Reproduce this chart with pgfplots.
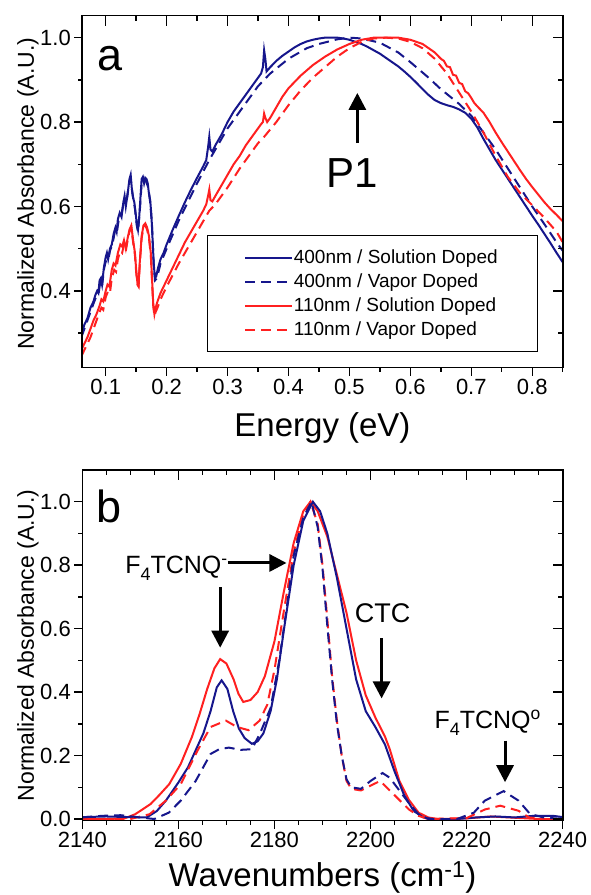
\documentclass[border=0pt]{standalone}
\usepackage{pgfplots}
\pgfplotsset{compat=1.18}
\usepackage{fontspec}
\setmainfont{Liberation Sans}
\usetikzlibrary{arrows.meta}
\definecolor{navy}{RGB}{22,22,140}
\definecolor{myred}{RGB}{255,32,32}
\tikzset{arr/.style={line width=3pt, -{Triangle[length=17pt,width=17pt]}}}
\newcommand{\subf}{\raisebox{-0.28em}{\fontsize{18}{20}\selectfont 4}}
\pgfplotsset{
  panel/.style={
    scale only axis, width=480.4pt,
    axis line style={line width=1.6pt},
    every tick/.style={black, line width=1.4pt},
    /pgf/number format/assume math mode=true,
    tick label style={font=\fontsize{22}{26}\selectfont},
    label style={font=\fontsize{23}{27}\selectfont},
  },
  outerax/.style={panel, tick align=outside, xtick pos=left, ytick pos=left,
    major tick length=8pt, minor tick length=4pt},
  innerax/.style={panel, tick align=inside, xtick pos=right, ytick pos=right,
    major tick length=10pt, minor tick length=5pt,
    xticklabels={}, yticklabels={}},
  topax/.style={xmin=0.0616, xmax=0.85, ymin=0.218, ymax=1.052, height=352pt,
    xtick={0.1,0.2,0.3,0.4,0.5,0.6,0.7,0.8},
    minor xtick={0.05,0.15,0.25,0.35,0.45,0.55,0.65,0.75,0.85},
    ytick={0.4,0.6,0.8,1.0}, minor ytick={0.3,0.5,0.7,0.9},
    xticklabel style={/pgf/number format/.cd, fixed, fixed zerofill, precision=1},
    yticklabel style={/pgf/number format/.cd, fixed, fixed zerofill, precision=1}},
  botax/.style={xmin=2140, xmax=2240, ymin=-0.005, ymax=1.1, height=350.6pt,
    xtick={2140,2160,2180,2200,2220,2240}, minor x tick num=3,
    ytick={0,0.2,0.4,0.6,0.8,1.0}, minor ytick={0.1,0.3,0.5,0.7,0.9},
    xticklabel style={/pgf/number format/.cd, fixed, precision=0, 1000 sep={}},
    yticklabel style={/pgf/number format/.cd, fixed, fixed zerofill, precision=1}},
  sol/.style={line width=2pt},
  das/.style={line width=2pt, dash pattern=on 10pt off 6pt},
}
\begin{document}
\begin{tikzpicture}
\useasboundingbox (0,0) rectangle (590pt,895pt);
% ---------------- panel a ----------------
\begin{axis}[outerax, topax, at={(82.3pt,527.3pt)}, anchor=south west,
  xlabel={\fontsize{33}{38}\selectfont Energy (eV)},
  xlabel style={at={(axis description cs:0.5,-0.196)}, anchor=base},
  ylabel={Normalized Absorbance (A.U.)},
  ylabel style={at={(axis description cs:-0.113,0.494)}, anchor=center, rotate=0},
  legend style={at={(0.948,0.0446)}, anchor=south east, draw=black, line width=0.8pt,
    fill=white, font=\fontsize{19}{22}\selectfont, inner xsep=36.8pt, inner ysep=11.5pt,
    row sep=3.1pt,
    nodes={inner xsep=0.8pt, inner ysep=2.8pt}, /tikz/every even column/.append style={column sep=0pt}},
  legend cell align=left,
  legend image code/.code={\draw[#1] (0pt,0pt) -- (47pt,0pt);},
]
\addplot[navy, sol] coordinates {
(0.060,0.295)(0.065,0.32)(0.070,0.335)(0.075,0.36)(0.080,0.375)(0.083,0.39)(0.086,0.40)(0.088,0.395)
(0.090,0.425)(0.092,0.43)(0.094,0.415)(0.097,0.455)(0.100,0.48)(0.102,0.49)(0.104,0.475)(0.107,0.50)
(0.110,0.51)(0.113,0.535)(0.116,0.55)(0.118,0.54)(0.120,0.57)(0.123,0.585)(0.126,0.575)(0.129,0.61)
(0.131,0.625)(0.133,0.60)(0.136,0.63)(0.139,0.665)(0.141,0.675)(0.143,0.64)(0.145,0.62)(0.147,0.61)
(0.149,0.585)(0.151,0.56)(0.153,0.545)(0.155,0.575)(0.157,0.62)(0.159,0.665)(0.161,0.67)(0.163,0.655)
(0.165,0.668)(0.167,0.665)(0.169,0.655)(0.171,0.63)(0.173,0.615)(0.175,0.58)(0.177,0.52)(0.179,0.46)
(0.181,0.43)(0.183,0.435)(0.186,0.455)(0.190,0.475)(0.195,0.49)(0.200,0.51)(0.210,0.545)(0.220,0.578)
(0.230,0.61)(0.240,0.64)(0.250,0.668)(0.260,0.695)(0.265,0.71)(0.268,0.74)(0.270,0.765)(0.272,0.735)
(0.275,0.73)(0.280,0.745)(0.290,0.77)(0.300,0.80)(0.310,0.825)(0.320,0.845)(0.330,0.865)(0.340,0.885)
(0.350,0.905)(0.355,0.915)(0.358,0.93)(0.360,0.97)(0.362,0.95)(0.364,0.92)(0.367,0.925)(0.370,0.93)
(0.380,0.945)(0.390,0.957)(0.400,0.967)(0.410,0.977)(0.420,0.985)(0.430,0.991)(0.440,0.995)(0.450,0.998)
(0.460,1.0)(0.470,1.0)(0.480,1.0)(0.490,0.998)(0.500,0.995)(0.510,0.99)(0.520,0.985)(0.530,0.978)
(0.540,0.97)(0.550,0.962)(0.560,0.952)(0.570,0.942)(0.580,0.932)(0.590,0.92)(0.600,0.907)(0.610,0.893)
(0.620,0.878)(0.630,0.864)(0.640,0.852)(0.650,0.845)(0.660,0.84)(0.670,0.836)(0.680,0.83)(0.690,0.822)
(0.700,0.808)(0.710,0.787)(0.720,0.76)(0.730,0.735)(0.740,0.71)(0.750,0.688)(0.760,0.666)(0.770,0.644)
(0.780,0.622)(0.790,0.60)(0.800,0.578)(0.810,0.557)(0.820,0.535)(0.830,0.513)(0.840,0.49)(0.850,0.468)};
\addlegendentry{400nm / Solution Doped\hspace*{2pt}}
\addplot[navy, das] coordinates {
(0.060,0.29)(0.065,0.31)(0.070,0.33)(0.075,0.35)(0.080,0.37)(0.084,0.385)(0.088,0.39)(0.091,0.42)
(0.094,0.41)(0.097,0.45)(0.100,0.47)(0.104,0.47)(0.107,0.495)(0.111,0.51)(0.115,0.54)(0.118,0.535)
(0.121,0.565)(0.125,0.575)(0.129,0.605)(0.132,0.615)(0.135,0.62)(0.139,0.66)(0.141,0.665)(0.144,0.63)
(0.148,0.595)(0.151,0.555)(0.153,0.54)(0.156,0.59)(0.159,0.655)(0.162,0.665)(0.166,0.66)(0.170,0.645)
(0.173,0.61)(0.176,0.555)(0.179,0.455)(0.181,0.425)(0.184,0.43)(0.190,0.465)(0.200,0.50)(0.220,0.567)
(0.250,0.655)(0.270,0.71)(0.300,0.785)(0.330,0.845)(0.350,0.885)(0.370,0.915)(0.400,0.95)(0.430,0.975)
(0.450,0.985)(0.480,0.996)(0.500,1.0)(0.520,0.998)(0.550,0.988)(0.580,0.965)(0.600,0.942)(0.630,0.905)
(0.650,0.878)(0.680,0.843)(0.700,0.815)(0.720,0.775)(0.740,0.735)(0.760,0.69)(0.780,0.645)(0.800,0.60)
(0.820,0.558)(0.840,0.515)(0.850,0.495)};
\addlegendentry{400nm / Vapor Doped}
\addplot[myred, sol] coordinates {
(0.060,0.26)(0.065,0.275)(0.070,0.29)(0.075,0.31)(0.080,0.33)(0.085,0.345)(0.090,0.365)(0.093,0.38)
(0.096,0.375)(0.100,0.40)(0.103,0.415)(0.106,0.41)(0.110,0.45)(0.113,0.465)(0.116,0.46)(0.120,0.49)
(0.124,0.51)(0.127,0.505)(0.130,0.52)(0.133,0.50)(0.136,0.525)(0.139,0.545)(0.142,0.555)(0.145,0.52)
(0.148,0.49)(0.150,0.45)(0.152,0.42)(0.154,0.415)(0.156,0.47)(0.159,0.53)(0.162,0.555)(0.165,0.56)
(0.168,0.55)(0.171,0.53)(0.174,0.49)(0.176,0.43)(0.178,0.37)(0.180,0.345)(0.182,0.36)(0.185,0.375)
(0.190,0.395)(0.195,0.41)(0.200,0.425)(0.210,0.455)(0.220,0.485)(0.230,0.515)(0.240,0.54)(0.250,0.565)
(0.260,0.59)(0.265,0.605)(0.268,0.625)(0.270,0.64)(0.272,0.615)(0.275,0.612)(0.280,0.625)(0.290,0.65)
(0.300,0.675)(0.310,0.70)(0.320,0.72)(0.330,0.745)(0.340,0.765)(0.350,0.785)(0.355,0.795)(0.358,0.80)
(0.360,0.82)(0.362,0.81)(0.365,0.80)(0.370,0.81)(0.380,0.835)(0.390,0.86)(0.400,0.88)(0.420,0.91)
(0.440,0.935)(0.460,0.955)(0.480,0.972)(0.500,0.985)(0.520,0.995)(0.540,1.0)(0.560,1.0)(0.580,1.0)
(0.600,0.995)(0.620,0.985)(0.640,0.965)(0.650,0.95)(0.655,0.945)(0.660,0.932)(0.665,0.93)(0.670,0.912)
(0.675,0.91)(0.680,0.893)(0.685,0.89)(0.690,0.873)(0.695,0.868)(0.700,0.857)(0.705,0.845)(0.710,0.837)
(0.720,0.822)(0.730,0.80)(0.740,0.775)(0.750,0.752)(0.760,0.73)(0.770,0.708)(0.780,0.686)(0.790,0.665)
(0.800,0.646)(0.810,0.628)(0.820,0.61)(0.830,0.594)(0.840,0.58)(0.850,0.565)};
\addlegendentry{110nm / Solution Doped\hspace*{2pt}}
\addplot[myred, das] coordinates {
(0.060,0.245)(0.065,0.26)(0.070,0.275)(0.075,0.29)(0.080,0.31)(0.085,0.33)(0.090,0.35)(0.093,0.36)
(0.096,0.355)(0.100,0.385)(0.104,0.40)(0.107,0.395)(0.110,0.43)(0.114,0.45)(0.117,0.445)(0.120,0.475)
(0.124,0.495)(0.127,0.49)(0.130,0.51)(0.133,0.495)(0.136,0.52)(0.139,0.54)(0.142,0.55)(0.145,0.515)
(0.148,0.485)(0.150,0.445)(0.152,0.415)(0.154,0.41)(0.156,0.465)(0.159,0.525)(0.162,0.55)(0.165,0.555)
(0.168,0.545)(0.171,0.525)(0.174,0.485)(0.176,0.425)(0.178,0.365)(0.180,0.34)(0.182,0.35)(0.185,0.36)
(0.190,0.38)(0.200,0.41)(0.220,0.465)(0.240,0.515)(0.260,0.565)(0.270,0.59)(0.280,0.605)(0.300,0.645)
(0.320,0.69)(0.340,0.73)(0.350,0.75)(0.360,0.765)(0.380,0.80)(0.400,0.84)(0.420,0.875)(0.440,0.905)
(0.460,0.93)(0.480,0.955)(0.500,0.975)(0.520,0.99)(0.540,0.998)(0.560,1.0)(0.580,0.998)(0.600,0.99)
(0.620,0.975)(0.640,0.95)(0.660,0.915)(0.680,0.87)(0.700,0.825)(0.720,0.775)(0.740,0.72)(0.760,0.67)
(0.780,0.632)(0.800,0.603)(0.820,0.573)(0.840,0.54)(0.850,0.515)};
\addlegendentry{110nm / Vapor Doped}
\node[anchor=base west, font=\fontsize{45}{50}\selectfont] at (axis cs:0.081,0.923) {a};
\draw[arr] (axis cs:0.513,0.75) -- (axis cs:0.513,0.869);
\node[anchor=base, font=\fontsize{42}{48}\selectfont] at (axis cs:0.505,0.646) {P1};
\end{axis}
\begin{axis}[innerax, topax, at={(82.3pt,527.3pt)}, anchor=south west]
\end{axis}
% ---------------- panel b ----------------
\begin{axis}[outerax, botax, at={(82.3pt,74.4pt)}, anchor=south west,
  xlabel={\fontsize{33}{38}\selectfont Wavenumbers (cm\textsuperscript{-1})},
  xlabel style={at={(axis description cs:0.5,-0.189)}, anchor=base},
  ylabel={Normalized Absorbance (A.U.)},
  ylabel style={at={(axis description cs:-0.113,0.5)}, anchor=center, rotate=0},
]
\addplot[myred, sol] coordinates {
(2140,0.0)(2145,0.0)(2148.8,0.002)(2151,0.015)(2154.2,0.047)(2156,0.075)(2158.1,0.11)(2160.5,0.174)
(2162.8,0.258)(2164.4,0.33)(2166,0.41)(2167.5,0.475)(2168.7,0.504)(2170,0.49)(2171.5,0.44)(2172.5,0.395)
(2173.5,0.369)(2175,0.375)(2176.5,0.4)(2178,0.45)(2180,0.56)(2182,0.72)(2184,0.87)(2186,0.97)
(2187.5,1.0)(2189,0.97)(2191,0.89)(2193,0.77)(2195,0.65)(2197,0.5)(2199,0.39)(2201,0.32)
(2203,0.26)(2204,0.22)(2206,0.12)(2208,0.06)(2210,0.02)(2212,0.005)(2214,0.0)(2220,0.002)
(2225,0.008)(2230,0.004)(2235,0.0)(2240,0.0)};
\addplot[navy, sol] coordinates {
(2140,0.006)(2145,0.008)(2150,0.006)(2153.4,0.005)(2155.5,0.025)(2157.4,0.058)(2160,0.115)(2162,0.163)
(2163.7,0.22)(2165.2,0.27)(2166.7,0.34)(2168,0.415)(2169,0.437)(2170.2,0.41)(2171.4,0.34)(2172.6,0.285)
(2173.8,0.255)(2175.3,0.237)(2176.5,0.245)(2177.7,0.27)(2179.2,0.34)(2180.5,0.44)(2182,0.6)(2184,0.8)
(2186,0.94)(2188,1.0)(2189.5,0.97)(2191,0.9)(2193,0.76)(2195,0.6)(2197,0.44)(2199,0.34)
(2201,0.29)(2203,0.235)(2205,0.15)(2207,0.075)(2209,0.025)(2211,0.005)(2213,0.0)(2218,0.0)
(2222,0.005)(2226,0.008)(2230,0.005)(2234,0.01)(2238,0.01)(2240,0.006)};
\addplot[myred, das] coordinates {
(2140,0.0)(2150,0.0)(2154,0.015)(2157.4,0.058)(2160.5,0.11)(2164,0.216)(2166.7,0.29)(2169.9,0.31)
(2172.2,0.29)(2174.6,0.28)(2176.9,0.31)(2178.5,0.36)(2180,0.47)(2182,0.66)(2184,0.84)(2186,0.96)
(2187.5,1.0)(2189,0.93)(2190,0.8)(2191,0.63)(2192,0.45)(2193,0.31)(2194,0.2)(2195,0.12)
(2196,0.095)(2198,0.09)(2200,0.105)(2202,0.12)(2204,0.09)(2206,0.06)(2208,0.03)(2210,0.01)
(2212,0.0)(2220,0.003)(2223.8,0.03)(2227,0.042)(2230.8,0.026)(2233,0.005)(2236,0.0)(2240,0.0)};
\addplot[navy, das] coordinates {
(2140,0.005)(2144,0.01)(2148,0.012)(2152,0.005)(2155,0.0)(2158,0.02)(2160.5,0.058)(2163.6,0.12)
(2166.7,0.205)(2168.5,0.22)(2170.5,0.225)(2173,0.218)(2175.3,0.22)(2177,0.27)(2179.2,0.35)(2181,0.5)
(2182.5,0.66)(2184,0.83)(2186,0.95)(2187.7,1.0)(2189,0.92)(2190,0.79)(2191,0.61)(2192,0.44)
(2193,0.3)(2194,0.2)(2195,0.125)(2196,0.1)(2198,0.095)(2200,0.12)(2202.5,0.145)(2204,0.13)
(2206,0.09)(2208,0.05)(2210,0.015)(2212,0.0)(2218,0.0)(2221.5,0.02)(2223.8,0.058)(2227.7,0.088)
(2230.8,0.058)(2233.2,0.016)(2236,0.005)(2240,0.0)};
\node[anchor=base west, font=\fontsize{45}{50}\selectfont] at (axis cs:2142.2,0.933) {b};
\node[anchor=base west, font=\fontsize{25}{30}\selectfont, inner sep=0pt] at (axis cs:2148.9,0.775) {F\subf TCNQ\textsuperscript{-}};
\draw[arr] (axis cs:2170.3,0.807) -- (axis cs:2182.5,0.807);
\draw[arr] (axis cs:2168.7,0.73) -- (axis cs:2168.7,0.54);
\node[anchor=base, font=\fontsize{27}{32}\selectfont] at (axis cs:2202.5,0.62) {CTC};
\draw[arr] (axis cs:2202.3,0.57) -- (axis cs:2202.3,0.38);
\node[anchor=base, font=\fontsize{25}{30}\selectfont] at (axis cs:2224.4,0.284) {F\subf TCNQ\textsuperscript{o}};
\draw[arr] (axis cs:2228,0.247) -- (axis cs:2228,0.116);
\end{axis}
\begin{axis}[innerax, botax, at={(82.3pt,74.4pt)}, anchor=south west]
\end{axis}
\end{tikzpicture}
\end{document}
